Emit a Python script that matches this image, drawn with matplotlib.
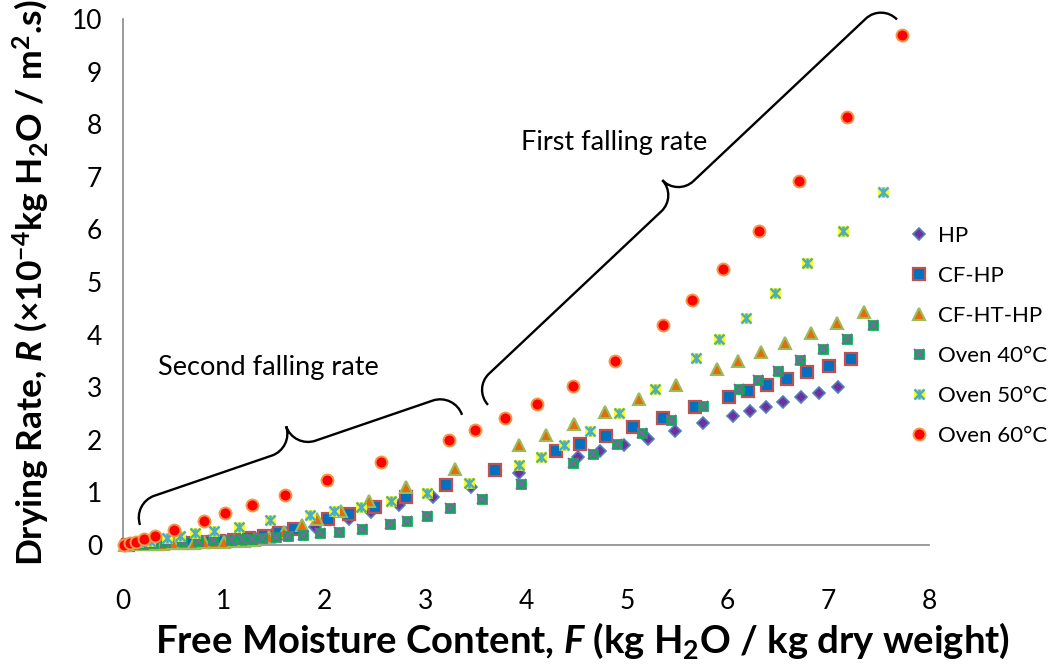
import numpy as np
import matplotlib
matplotlib.use('Agg')
from matplotlib import pyplot as plt
from matplotlib.path import Path
from matplotlib.patches import PathPatch
from matplotlib.legend_handler import HandlerTuple

plt.rcParams['font.family'] = ['Lato', 'DejaVu Sans']
plt.rcParams['mathtext.fontset'] = 'custom'
plt.rcParams['mathtext.rm'] = 'Lato:bold'
plt.rcParams['mathtext.it'] = 'Lato:bold:italic'
plt.rcParams['mathtext.default'] = 'rm'

# Free moisture content F and drying rate R (x1e-4)
hp_F = [0.03, 0.15, 0.3, 0.45, 0.6, 0.75, 0.9, 1.05, 1.2, 1.35, 1.5, 1.66,
        1.906, 2.246, 2.463, 2.744, 3.077, 3.452, 3.931, 4.516, 4.734, 4.970,
        5.214, 5.479, 5.760, 6.058, 6.223, 6.382, 6.554, 6.728, 6.908, 7.092]
hp_R = [0.0, 0.01, 0.02, 0.03, 0.04, 0.05, 0.07, 0.09, 0.12, 0.16, 0.22, 0.29,
        0.348, 0.489, 0.618, 0.755, 0.922, 1.103, 1.369, 1.679, 1.787, 1.897,
        2.019, 2.163, 2.310, 2.458, 2.551, 2.633, 2.719, 2.808, 2.895, 2.998]

cfhp_F = [0.05, 0.2, 0.35, 0.5, 0.65, 0.8, 0.95, 1.1, 1.25, 1.4, 1.55, 1.70,
          2.038, 2.245, 2.499, 2.811, 3.203, 3.690, 4.296, 4.538, 4.794, 5.065,
          5.363, 5.677, 6.018, 6.206, 6.395, 6.591, 6.792, 7.004, 7.223]
cfhp_R = [0.0, 0.01, 0.02, 0.03, 0.045, 0.06, 0.08, 0.1, 0.13, 0.17, 0.23, 0.30,
          0.485, 0.587, 0.722, 0.905, 1.137, 1.420, 1.787, 1.926, 2.078, 2.240,
          2.420, 2.618, 2.810, 2.922, 3.036, 3.156, 3.285, 3.409, 3.536]

cfht_F = [0.02, 0.1, 0.2, 0.3, 0.4, 0.5, 0.6, 0.7, 0.8, 0.9, 1.0, 1.1, 1.2, 1.3,
          1.45, 1.6, 1.774, 1.929, 2.161, 2.445, 2.812, 3.298, 3.931, 4.196,
          4.474, 4.786, 5.117, 5.489, 5.891, 6.109, 6.337, 6.573, 6.824, 7.084,
          7.357]
cfht_R = [0.0, 0.01, 0.015, 0.02, 0.025, 0.03, 0.035, 0.04, 0.05, 0.055, 0.06,
          0.07, 0.08, 0.1, 0.15, 0.25, 0.380, 0.485, 0.652, 0.837, 1.103, 1.451,
          1.907, 2.091, 2.304, 2.529, 2.770, 3.042, 3.346, 3.504, 3.669, 3.840,
          4.034, 4.226, 4.426]

ov40_F = [0.02, 0.1, 0.2, 0.3, 0.417, 0.583, 0.741, 0.890, 1.072, 1.186, 1.280,
          1.380, 1.519, 1.638, 1.790, 1.955, 2.144, 2.377, 2.650, 2.819, 3.017,
          3.246, 3.560, 3.950, 4.470, 4.668, 4.906, 5.154, 5.439, 5.760, 6.114,
          6.306, 6.504, 6.723, 6.951, 7.189, 7.447]
ov40_R = [0.0, 0.01, 0.02, 0.04, 0.063, 0.067, 0.082, 0.095, 0.101, 0.105,
          0.114, 0.133, 0.152, 0.171, 0.190, 0.222, 0.247, 0.300, 0.399, 0.462,
          0.555, 0.694, 0.884, 1.154, 1.553, 1.724, 1.914, 2.124, 2.373, 2.643,
          2.962, 3.133, 3.308, 3.508, 3.721, 3.916, 4.177]

ov50_F = [0.05, 0.15, 0.27, 0.434, 0.566, 0.715, 0.906, 1.151, 1.459, 1.856,
          2.094, 2.359, 2.663, 3.014, 3.431, 3.931, 4.149, 4.377, 4.635, 4.926,
          5.277, 5.687, 5.918, 6.182, 6.469, 6.789, 7.146, 7.543]
ov50_R = [0.02, 0.05, 0.08, 0.127, 0.171, 0.222, 0.272, 0.337, 0.466, 0.576,
          0.641, 0.728, 0.842, 0.983, 1.179, 1.527, 1.679, 1.895, 2.167, 2.515,
          2.962, 3.549, 3.911, 4.325, 4.797, 5.356, 5.979, 6.711]

ov60_F = [0.013, 0.07, 0.126, 0.211, 0.318, 0.509, 0.807, 1.012, 1.277, 1.608,
          2.022, 2.558, 3.236, 3.497, 3.792, 4.109, 4.469, 4.883, 5.363, 5.645,
          5.955, 6.308, 6.712, 7.183, 7.732]
ov60_R = [0.0, 0.03, 0.063, 0.108, 0.171, 0.285, 0.462, 0.603, 0.760, 0.956,
          1.236, 1.572, 2.004, 2.186, 2.409, 2.686, 3.023, 3.504, 4.188, 4.658,
          5.241, 5.975, 6.916, 8.131, 9.696]

xticks = [0, 1, 2, 3, 4, 5, 6, 7, 8]
yticks = [0, 1, 2, 3, 4, 5, 6, 7, 8, 9, 10]

# brace end points (data coords) and depth in pixels
brace2 = ((0.169, 0.381), (3.365, 2.474), 46)
brace1 = ((3.623, 2.664), (7.682, 9.99), 44)


def brace(ax, p0, p1, depth, lw=1.7):
    t = ax.transData
    a = t.transform(p0)
    b = t.transform(p1)
    d = b - a
    L = np.hypot(*d)
    u = d/L
    n = np.array([-u[1], u[0]])
    r = depth/2.
    k = 0.55
    loc = [(0, 0), (0, k*r), (r - k*r, r), (r, r),
           (L/2 - r, r),
           (L/2 - r + k*r, r), (L/2, 2*r - k*r), (L/2, 2*r),
           (L/2, 2*r - k*r), (L/2 + r - k*r, r), (L/2 + r, r),
           (L - r, r),
           (L - r + k*r, r), (L, k*r), (L, 0)]
    codes = [Path.MOVETO] + [Path.CURVE4]*3 + [Path.LINETO] + [Path.CURVE4]*6 \
        + [Path.LINETO] + [Path.CURVE4]*3
    disp = np.array([a + s*u + v*n for s, v in loc])
    verts = t.inverted().transform(disp)
    ax.add_patch(PathPatch(Path(verts, codes), fill=False, ec='black', lw=lw,
                           clip_on=False, zorder=20))


fig = plt.figure(figsize=(10.57, 6.68), dpi=100)
ax = fig.add_axes([123/1057, 123/668, 806/1057, 526/668])
ax.set_xlim(0, 8)
ax.set_ylim(0, 10)

kw = dict(ls='none', clip_on=False)
h1, = ax.plot(hp_F, hp_R, marker='D', ms=6.2, mfc='#7030A0', mec='#4F81BD',
              mew=1.2, zorder=3, **kw)
h2, = ax.plot(cfhp_F, cfhp_R, marker='s', ms=8, mfc='#0070C0', mec='#C0504D',
              mew=1.6, zorder=4, **kw)
h3, = ax.plot(cfht_F, cfht_R, marker='^', ms=9, mfc='#E46C0A', mec='#9BBB59',
              mew=1.5, zorder=5, **kw)
h4a, = ax.plot(ov40_F, ov40_R, marker='s', ms=7.8, mfc='#00B050', mec='#00B050',
               mew=0.5, zorder=6, **kw)
h4b, = ax.plot(ov40_F, ov40_R, marker='x', ms=6.5, mec='#8064A2', mew=1.4,
               zorder=6, **kw)
h5a, = ax.plot(ov50_F, ov50_R, marker='s', ms=7.2, mfc='#FFFF00', mec='#FFFF00',
               mew=0.5, zorder=7, **kw)
h5b, = ax.plot(ov50_F, ov50_R, marker='x', ms=6.5, mec='#4BACC6', mew=1.8,
               zorder=7, **kw)
h5c, = ax.plot(ov50_F, ov50_R, marker='|', ms=7.5, mec='#4BACC6', mew=1.8,
               zorder=7, **kw)
h6, = ax.plot(ov60_F, ov60_R, marker='o', ms=8.6, mfc='#FF0000', mec='#F79646',
              mew=1.4, zorder=8, **kw)

for s in ['top', 'right']:
    ax.spines[s].set_visible(False)
for s in ['left', 'bottom']:
    ax.spines[s].set_color('#898989')
    ax.spines[s].set_linewidth(1.2)
ax.set_xticks(xticks)
ax.set_yticks(yticks)
ax.tick_params(axis='x', length=0, pad=32, labelsize=19)
ax.tick_params(axis='y', length=0, pad=15, labelsize=19)

brace(ax, *brace2)
brace(ax, *brace1)
ax.text(1.44, 3.37, 'Second falling rate', fontsize=19.5, ha='center',
        va='center')
ax.text(4.87, 7.65, 'First falling rate', fontsize=19.5, ha='center',
        va='center')

fig.text(583/1057, 1 - 641/668,
         'Free Moisture Content, $\\mathit{F}$ (kg H$_2$O / kg dry weight)',
         fontsize=27.5, fontweight='bold', ha='center', va='center')
fig.text(31/1057, 1 - 283/668,
         'Drying Rate, $\\mathit{R}$ (×10$^{-4}$kg H$_2$O / m$^2$.s)',
         fontsize=25.5, fontweight='bold', ha='center', va='center',
         rotation=90)

handles = [h1, h2, h3, (h4a, h4b), (h5a, h5b, h5c), h6]
labels = ['HP', 'CF-HP', 'CF-HT-HP', 'Oven 40°C', 'Oven 50°C', 'Oven 60°C']
fig.legend(handles, labels, loc='upper left',
           bbox_to_anchor=(908/1057, 1 - 226/668), frameon=False, fontsize=16,
           handlelength=1.0, handletextpad=0.35, labelspacing=0.9,
           borderaxespad=0, borderpad=0,
           handler_map={tuple: HandlerTuple(ndivide=1)})

fig.savefig('out.png', dpi=100)
